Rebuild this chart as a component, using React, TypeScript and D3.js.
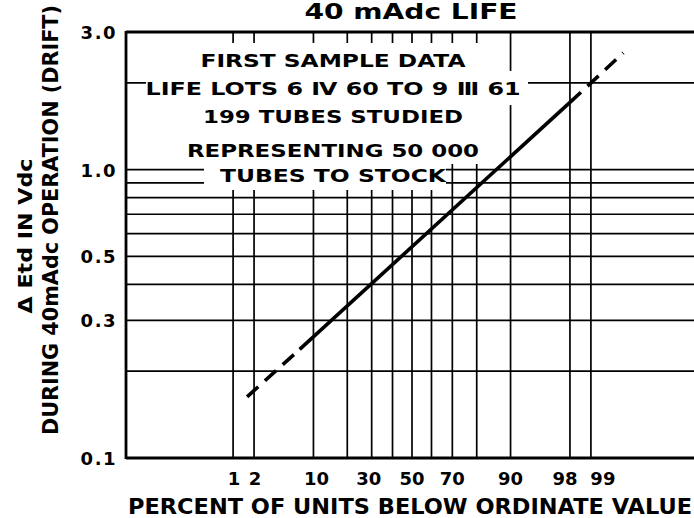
import React from "react";
import * as d3 from "d3";

// probability paper: percent gridlines and labels
const gridPercents = [1, 2, 10, 20, 30, 40, 50, 60, 70, 80, 90, 98, 99];
const percentTicks = [1, 2, 10, 30, 50, 70, 90, 98, 99];

// log ordinate gridlines and labels
const gridDrift = [0.2, 0.3, 0.4, 0.5, 0.6, 0.7, 0.8, 0.9, 1.0, 2.0];
const driftTicks = [0.1, 0.3, 0.5, 1.0, 3.0];

// fitted line (percent below, drift in Vdc)
const fitPercent = [1.6, 7.2, 98, 99.7];
const fitDrift = [0.163, 0.238, 1.71, 2.54];
const fitStyle = ["dashed", "solid", "dashed"];

const boxLines = [
  "FIRST SAMPLE DATA",
  "LIFE LOTS 6 \u2163 60 TO 9 \u2162 61",
  "199 TUBES STUDIED",
  "REPRESENTING 50 000",
  "TUBES TO STOCK",
];

const W = 694;
const H = 518;
const FONT = "'DejaVu Sans', Verdana, sans-serif";

// the hand lettering sits a little off some rulings
const labelNudge: Record<number, number> = { 1: 1, 2: 1, 10: 3, 30: -3, 98: -5, 99: 12 };

// inverse normal cdf (Acklam)
function probit(p: number): number {
  const a = [-39.69683028665376, 220.9460984245205, -275.9285104469687, 138.357751867269, -30.66479806614716, 2.506628277459239];
  const b = [-54.47609879822406, 161.5858368580409, -155.6989798598866, 66.80131188771972, -13.28068155288572];
  const c = [-0.007784894002430293, -0.3223964580411365, -2.400758277161838, -2.549732539343734, 4.374664141464968, 2.938163982698783];
  const d = [0.007784695709041462, 0.3224671290700398, 2.445134137142996, 3.754408661907416];
  const pl = 0.02425;
  if (p < pl) {
    const q = Math.sqrt(-2 * Math.log(p));
    return (((((c[0] * q + c[1]) * q + c[2]) * q + c[3]) * q + c[4]) * q + c[5]) / ((((d[0] * q + d[1]) * q + d[2]) * q + d[3]) * q + 1);
  }
  if (p <= 1 - pl) {
    const q = p - 0.5, r = q * q;
    return ((((((a[0] * r + a[1]) * r + a[2]) * r + a[3]) * r + a[4]) * r + a[5]) * q) / (((((b[0] * r + b[1]) * r + b[2]) * r + b[3]) * r + b[4]) * r + 1);
  }
  const q = Math.sqrt(-2 * Math.log(1 - p));
  return -(((((c[0] * q + c[1]) * q + c[2]) * q + c[3]) * q + c[4]) * q + c[5]) / ((((d[0] * q + d[1]) * q + d[2]) * q + d[3]) * q + 1);
}

export default function App() {
  const left = 126, top = 32, bottom = 458;
  const zMax = probit(0.9999);
  const z = d3.scaleLinear().domain([-zMax, zMax]).range([left, 412 + (412 - left)]);
  const x = (pct: number) => z(probit(pct / 100));
  const y = d3.scaleLog().domain([0.1, 3.0]).range([bottom, top]);

  const line = d3.line<number>().x((i) => x(fitPercent[i])).y((i) => y(fitDrift[i]));

  // white patch under the inscription (stepped, like the original paste-up)
  const mask = [
    [146, 43], [507, 43], [507, 71], [528, 71], [528, 105], [490, 105], [490, 164],
    [446, 164], [446, 190], [204, 190], [204, 164], [146, 164],
  ];

  const boxBaselines = [67, 95, 123, 157, 182];
  const boxWidths = [265, 375, 260, 292, 226];

  return (
    <svg width={W} height={H} style={{ position: "absolute", left: 0, top: 0, background: "#fff" }} fontFamily={FONT} fill="#000">
      {/* grid */}
      <g stroke="#000" strokeWidth={1.7}>
        {gridDrift.map((v) => (
          <line key={"h" + v} x1={left} x2={W} y1={y(v)} y2={y(v)} />
        ))}
        {gridPercents.map((p) => (
          <line key={"v" + p} x1={x(p)} x2={x(p)} y1={top} y2={bottom} />
        ))}
      </g>
      <path d={"M" + mask.map((p) => p.join(",")).join("L") + "Z"} fill="#fff" />

      {/* frame */}
      <g stroke="#000" strokeWidth={2.8} fill="none">
        <line x1={left} x2={W} y1={top} y2={top} />
        <line x1={left} x2={W} y1={bottom} y2={bottom} />
        <line x1={left} x2={left} y1={top - 1} y2={bottom + 1} />
      </g>

      {/* fitted line */}
      {fitStyle.map((s, i) => (
        <path
          key={"f" + i}
          d={line([i, i + 1]) || ""}
          stroke="#000"
          strokeWidth={3.6}
          fill="none"
          strokeDasharray={s === "dashed" ? "15 9" : undefined}
        />
      ))}

      {/* inscription */}
      <g fontSize={18} fontWeight="bold" textAnchor="middle">
        {boxLines.map((t, i) => (
          <text key={t} x={333} y={boxBaselines[i]} textLength={boxWidths[i]} lengthAdjust="spacingAndGlyphs">
            {t}
          </text>
        ))}
      </g>

      {/* title */}
      <text x={411} y={19} textAnchor="middle" fontSize={22} fontWeight="bold" textLength={213} lengthAdjust="spacingAndGlyphs">
        40 mAdc LIFE
      </text>

      {/* y tick labels */}
      <g fontSize={18} fontWeight="bold" textAnchor="end" letterSpacing={1.5}>
        {driftTicks.map((v) => (
          <text key={"yl" + v} x={117} y={y(v) + 7}>
            {v.toFixed(1)}
          </text>
        ))}
      </g>

      {/* x tick labels */}
      <g fontSize={18} fontWeight="bold" textAnchor="middle">
        {percentTicks.map((p) => (
          <text key={"xl" + p} x={x(p) + (labelNudge[p] || 0)} y={485}>
            {p}
          </text>
        ))}
      </g>

      {/* axis titles */}
      <text x={410} y={514} textAnchor="middle" fontSize={21} fontWeight="bold" textLength={564} lengthAdjust="spacingAndGlyphs">
        PERCENT OF UNITS BELOW ORDINATE VALUE
      </text>
      <text transform="translate(32,236) rotate(-90)" textAnchor="middle" fontSize={20} fontWeight="bold" textLength={155} lengthAdjust="spacingAndGlyphs">
        {"\u0394 Etd IN Vdc"}
      </text>
      <text transform="translate(58,220) rotate(-90)" textAnchor="middle" fontSize={21} fontWeight="bold" textLength={430} lengthAdjust="spacingAndGlyphs">
        DURING 40mAdc OPERATION (DRIFT)
      </text>
    </svg>
  );
}
